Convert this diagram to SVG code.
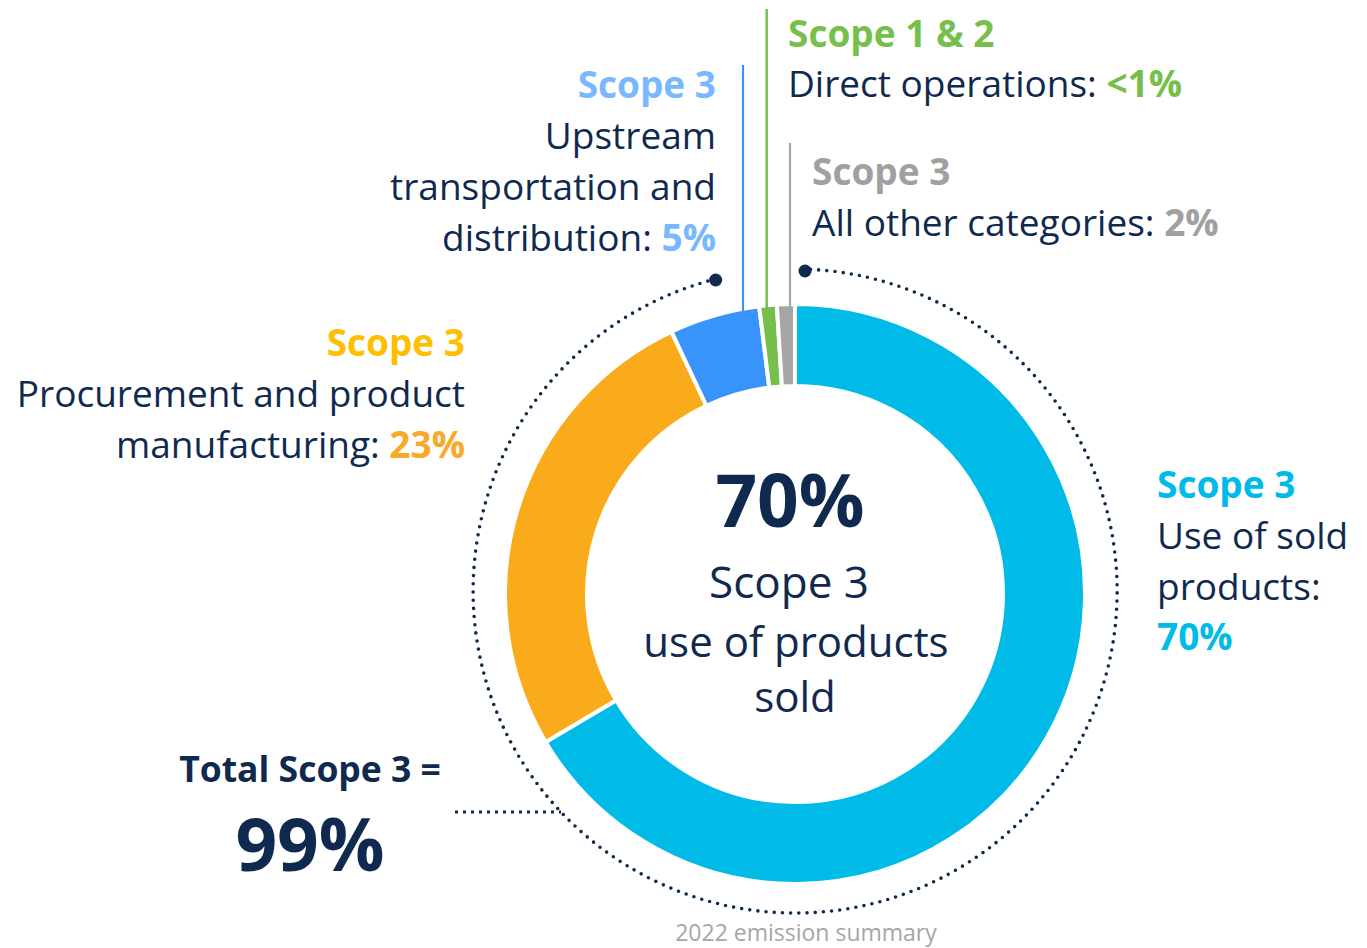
<svg xmlns="http://www.w3.org/2000/svg" width="1367" height="948" viewBox="0 0 1367 948">
<style>
text{font-family:"Open Sans","Liberation Sans",sans-serif;fill:#102a4f;}
.b{font-weight:700;}
.lbl{font-size:37px;}
.seg{stroke:#fff;stroke-width:4;stroke-linejoin:miter;}
.lead{fill:none;}
</style>
<rect width="1367" height="948" fill="#fff"/>
<g id="connectors">
<path class="lead" d="M715.7 279 A322 322 0 1 0 805 269.2" stroke="#0f2a4f" stroke-width="3.6" stroke-linecap="round" stroke-dasharray="0 8.2"/>
<circle cx="715.7" cy="280" r="6.5" fill="#0f2a4f"/>
<circle cx="805" cy="271" r="6.5" fill="#0f2a4f"/>
<line x1="455" y1="812" x2="561" y2="812" stroke="#0f2a4f" stroke-width="3" stroke-dasharray="3 5"/>
</g>
<g id="donut">
<path id="seg-cyan" class="seg" fill="#00bbe8" d="M795 304 A290 290 0 1 1 545.63 742.05 L616.14 700.18 A208 208 0 1 0 795 386 Z"/>
<path id="seg-orange" class="seg" fill="#faab1b" d="M545.63 742.05 A290 290 0 0 1 671.52 331.61 L706.43 405.8 A208 208 0 0 0 616.14 700.18 Z"/>
<path id="seg-blue" class="seg" fill="#3894fb" d="M671.52 331.61 A290 290 0 0 1 759.16 306.23 L769.29 387.6 A208 208 0 0 0 706.43 405.8 Z"/>
<path id="seg-green" class="seg" fill="#77bf4c" d="M759.16 306.23 A290 290 0 0 1 776.79 304.58 L781.94 386.42 A208 208 0 0 0 769.29 387.6 Z"/>
<path id="seg-gray" class="seg" fill="#a6a6a6" d="M776.79 304.58 A290 290 0 0 1 795 304 L795 386 A208 208 0 0 0 781.94 386.42 Z"/>
</g>
<g id="leader-lines">
<line x1="743" y1="65" x2="743" y2="311" stroke="#3d90f5" stroke-width="2.2"/>
<line x1="766.7" y1="9" x2="766.7" y2="308" stroke="#77bf4c" stroke-width="2.5"/>
<line x1="790" y1="143" x2="790" y2="325" stroke="#a6a6a6" stroke-width="2.2"/>
</g>
<g id="label-scope12">
<text class="lbl b" x="788" y="47" style="fill:#77bf4c">Scope 1 &amp; 2</text>
<text class="lbl" x="788" y="97">Direct operations: <tspan class="b" style="fill:#77bf4c">&lt;1%</tspan></text>
</g>
<g id="label-upstream">
<text class="lbl b" x="716" y="98" text-anchor="end" style="fill:#79b7fe">Scope 3</text>
<text class="lbl" x="716" y="149" text-anchor="end">Upstream</text>
<text class="lbl" x="716" y="200" text-anchor="end">transportation and</text>
<text class="lbl" x="716" y="251" text-anchor="end">distribution: <tspan class="b" style="fill:#79b7fe">5%</tspan></text>
</g>
<g id="label-other">
<text class="lbl b" x="812" y="185" style="fill:#a0a0a0">Scope 3</text>
<text class="lbl" x="812" y="236">All other categories: <tspan class="b" style="fill:#a0a0a0">2%</tspan></text>
</g>
<g id="label-procurement">
<text class="lbl b" x="465" y="356" text-anchor="end" style="fill:#ffbf00">Scope 3</text>
<text class="lbl" x="465" y="407" text-anchor="end">Procurement and product</text>
<text class="lbl" x="465" y="458" text-anchor="end">manufacturing: <tspan class="b" style="fill:#f9a92a">23%</tspan></text>
</g>
<g id="label-use">
<text class="lbl b" x="1157" y="498" style="fill:#00bbe8">Scope 3</text>
<text class="lbl" x="1157" y="549">Use of sold</text>
<text class="lbl" x="1157" y="600">products:</text>
<text class="lbl b" x="1157" y="650" style="fill:#00bbe8">70%</text>
</g>
<g id="center-label">
<text class="b" x="790" y="527" text-anchor="middle" font-size="73">70%</text>
<text x="789" y="598" text-anchor="middle" font-size="44">Scope 3</text>
<text x="796" y="657" text-anchor="middle" font-size="42">use of products</text>
<text x="795" y="712" text-anchor="middle" font-size="42">sold</text>
</g>
<g id="total-label">
<text class="b" x="310" y="782" text-anchor="middle" font-size="35.5">Total Scope 3 =</text>
<text class="b" x="310" y="871" text-anchor="middle" font-size="73">99%</text>
</g>
<text x="806" y="941" text-anchor="middle" font-size="23" style="fill:#a6a6a6">2022 emission summary</text>
</svg>
